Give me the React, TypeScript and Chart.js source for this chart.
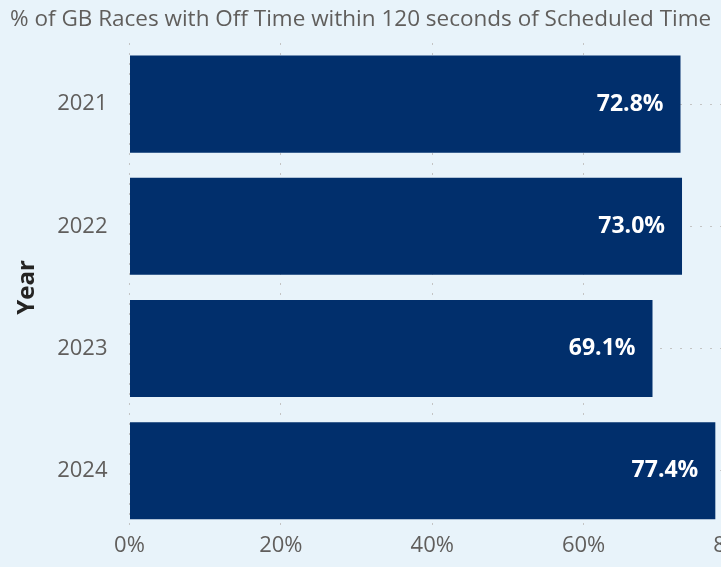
import React, { useEffect, useRef } from "react";
import { Chart, registerables } from "chart.js";

Chart.register(...registerables);

const titleText = "% of GB Races with Off Time within 120 seconds of Scheduled Time";
const years = ["2021", "2022", "2023", "2024"];
const onTimePct = [72.8, 73.0, 69.1, 77.4];
const xTicks = [0, 20, 40, 60, 80];

const BG = "#e8f3fa";
const BAR = "#012f6c";
const FONT = "'Open Sans', 'Noto Sans', sans-serif";

export default function App() {
  const ref = useRef<HTMLCanvasElement | null>(null);

  useEffect(() => {
    document.body.style.margin = "0";
    document.body.style.overflow = "hidden";
    const canvas = ref.current!;
    const titlePlugin = {
      id: "topTitle",
      afterDraw(chart: any) {
        const ctx = chart.ctx;
        ctx.save();
        ctx.font = `22.5px ${FONT}`;
        ctx.fillStyle = "#605e5c";
        ctx.textBaseline = "middle";
        ctx.textAlign = "left";
        ctx.fillText(titleText, 10, 20);
        ctx.restore();
      },
    };
    const labelPlugin = {
      id: "barLabels",
      afterDatasetsDraw(chart: any) {
        const ctx = chart.ctx;
        const meta = chart.getDatasetMeta(0);
        ctx.save();
        ctx.font = `bold 23px ${FONT}`;
        ctx.fillStyle = "#ffffff";
        ctx.textAlign = "right";
        ctx.textBaseline = "middle";
        meta.data.forEach((bar: any, i: number) => {
          ctx.fillText(onTimePct[i].toFixed(1) + "%", bar.x - 17, bar.y);
        });
        ctx.restore();
      },
    };
    const chart = new Chart(canvas, {
      type: "bar",
      data: {
        labels: years,
        datasets: [
          {
            data: onTimePct,
            backgroundColor: BAR,
            borderWidth: 0,
            categoryPercentage: 1,
            barPercentage: 0.795,
          },
        ],
      },
      options: {
        indexAxis: "y",
        animation: false,
        responsive: false,
        maintainAspectRatio: false,
        layout: { padding: { top: 43, right: 35, left: 0, bottom: 0 } },
        plugins: {
          legend: { display: false },
          tooltip: { enabled: false },
          title: { display: false },
        },
        scales: {
          x: {
            min: 0,
            max: 80,
            afterBuildTicks(scale: any) {
              scale.ticks = xTicks.map((v) => ({ value: v }));
            },
            afterFit(scale: any) {
              scale.height = 34;
              scale.paddingLeft = 0;
              scale.paddingRight = 0;
            },
            border: { display: false, dash: [2, 8] },
            grid: {
              drawTicks: false,
              color: "#c4c4c4",
              lineWidth: 1,
            },
            ticks: {
              padding: 1,
              color: "#605e5c",
              font: { family: FONT, size: 22 },
              callback: (v: any) => v + "%",
              maxRotation: 0,
            },
          },
          y: {
            afterFit(scale: any) {
              scale.width = 129.5;
            },
            border: { display: false, dash: [2, 8] },
            grid: {
              offset: false,
              drawTicks: false,
              color: "#c4c4c4",
              lineWidth: 1,
            },
            ticks: {
              padding: 22,
              color: "#605e5c",
              font: { family: FONT, size: 22 },
            },
            title: {
              display: true,
              text: "Year",
              color: "#252423",
              font: { family: FONT, size: 24, weight: "bold" },
              padding: { top: 13, bottom: 0 },
            },
          },
        },
      },
      plugins: [titlePlugin, labelPlugin],
    } as any);
    return () => chart.destroy();
  }, []);

  return (
    <div
      style={{
        position: "fixed",
        left: 0,
        top: 0,
        width: 721,
        height: 567,
        overflow: "hidden",
        background: BG,
      }}
    >
      <canvas ref={ref} width={770} height={567} style={{ display: "block" }} />
    </div>
  );
}
